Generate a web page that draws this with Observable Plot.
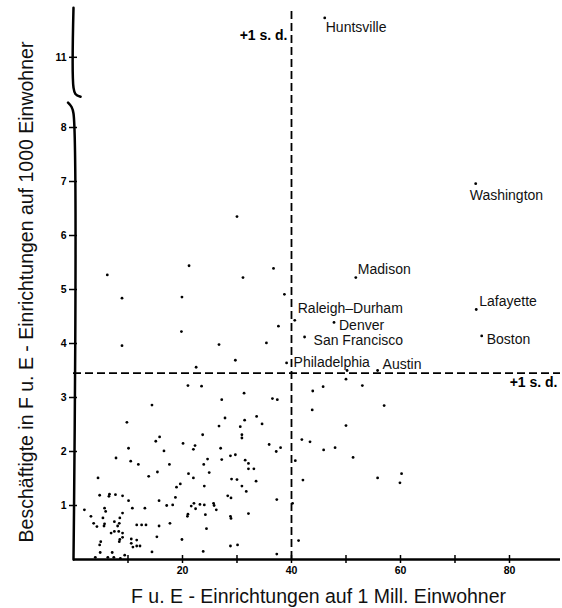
<!DOCTYPE html>
<html>
<head>
<meta charset="utf-8">
<script src="https://cdn.jsdelivr.net/npm/d3@7"></script>
<script src="https://cdn.jsdelivr.net/npm/@observablehq/plot@0.6"></script>
<style>
  html, body { margin: 0; padding: 0; background: #fff; }
  #chart svg { display: block; }
</style>
</head>
<body>
<div id="chart"></div>
<script>
// ---------- data ----------
const cityNames = ["Huntsville", "Washington", "Madison", "Lafayette", "Raleigh–Durham",
  "Denver", "San Francisco", "Boston", "Philadelphia", "Austin"];
const cityX = [46.1, 73.8, 51.8, 73.9, 40.6, 47.8, 42.4, 74.9, 39.1, 55.8];
const cityY = [11.73, 6.96, 5.22, 4.63, 4.43, 4.39, 4.12, 4.14, 3.64, 3.50];

const otherX = [
  6.2, 8.9, 8.9, 21.2, 19.9, 19.8, 22.5, 21.0, 23.5, 26.7, 29.7, 30.0, 31.1, 36.7, 38.7, 37.6, 35.4,
  50.2, 50.0, 45.8, 53.0, 43.9, 43.8, 57.0, 50.0, 41.9, 43.4, 45.9, 48.0, 51.3, 40.7, 42.1, 55.8, 60.2, 59.9, 40.2, 41.3,
  31.3, 27.2, 36.5, 37.4, 33.6, 34.6, 31.4, 27.8, 26.7, 30.6, 23.7, 30.9, 30.9, 20.1, 22.3, 22.0, 27.0, 35.9, 37.2, 38.0,
  28.8, 29.7, 24.6, 23.9, 27.2, 31.5, 32.1, 32.1, 33.1, 24.9, 21.1, 22.0, 29.0, 30.0, 33.5, 24.0, 30.9, 31.7, 28.3, 28.9,
  37.3, 22.1, 21.6, 22.4, 23.2, 24.0, 25.7, 25.8, 26.2, 21.0, 20.9, 24.2, 28.8, 28.9, 32.1, 24.4, 19.9, 28.8, 30.1, 23.8, 37.3,
  14.4, 9.8, 10.1, 15.1, 15.8, 16.6, 7.8, 10.5, 11.9, 17.6, 15.4, 13.8, 4.5, 19.6, 18.9, 18.7, 15.7, 18.2, 17.1, 17.7,
  4.8, 6.5, 6.6, 7.7, 9.0, 10.1, 10.8, 13.1, 5.7, 5.9, 2.0, 3.2, 5.4, 8.5, 9.0, 3.7, 4.3, 5.6, 5.7, 7.5, 8.1, 8.4,
  11.6, 12.5, 13.3, 15.7, 6.9, 7.5, 8.3, 9.0, 9.0, 8.5, 8.4, 5.0, 4.8, 10.6, 10.6, 11.6, 10.9, 11.6, 12.2, 15.3,
  4.9, 4.0, 6.3, 7.1, 7.4, 9.4, 8.6, 14.4
];
const otherY = [
  5.27, 4.84, 3.96, 5.44, 4.86, 4.22, 3.56, 3.22, 3.21, 3.98, 3.69, 6.35, 5.22, 5.39, 4.91, 4.32, 4.01,
  3.50, 3.34, 3.20, 3.22, 3.12, 2.77, 2.85, 2.48, 2.22, 2.18, 2.03, 2.07, 1.89, 1.83, 1.47, 1.51, 1.59, 1.42, 1.04, 0.35,
  3.08, 2.96, 2.98, 2.96, 2.65, 2.51, 2.58, 2.62, 2.47, 2.46, 2.31, 2.31, 2.25, 2.15, 2.11, 2.04, 2.06, 2.13, 2.00, 2.07,
  1.92, 1.94, 1.86, 1.76, 1.85, 1.84, 1.78, 1.68, 1.68, 1.61, 1.59, 1.51, 1.49, 1.48, 1.45, 1.36, 1.36, 1.26, 1.18, 1.14,
  1.11, 1.04, 0.99, 0.94, 1.02, 1.01, 1.04, 1.00, 0.92, 0.84, 0.80, 0.83, 0.80, 0.76, 0.85, 0.57, 0.37, 0.25, 0.27, 0.15, 0.10,
  2.86, 2.54, 2.06, 2.19, 2.27, 2.01, 1.88, 1.82, 1.76, 1.76, 1.62, 1.54, 1.51, 1.40, 1.34, 1.15, 1.09, 1.01, 1.00, 0.67,
  1.19, 1.17, 1.21, 1.20, 1.18, 1.09, 0.95, 0.95, 0.95, 0.89, 0.92, 0.80, 0.77, 0.77, 0.86, 0.67, 0.61, 0.62, 0.66, 0.70, 0.62, 0.67,
  0.64, 0.64, 0.64, 0.62, 0.49, 0.52, 0.52, 0.49, 0.41, 0.37, 0.33, 0.33, 0.27, 0.38, 0.30, 0.36, 0.23, 0.25, 0.25, 0.42,
  0.13, 0.04, 0.04, 0.13, 0.04, 0.08, 0.02, 0.14
];

const sdX = 40;      // +1 s.d. of x
const sdY = 3.45;    // +1 s.d. of y
const xTicks = [10, 20, 30, 40, 50, 60, 70, 80];
const yTicks = [1, 2, 3, 4, 5, 6, 7, 8, 11];
const xTitle = "F u. E - Einrichtungen auf 1 Mill. Einwohner";
const yTitle = "Beschäftigte in F u. E - Einrichtungen auf 1000 Einwohner";
const sdLabel = "+1 s. d.";

// axis break: values above the break are shifted down
const breakShift = 11 - 9.3;
const disp = v => (v > 9 ? v - breakShift : v);
const undisp = v => (v > 9 ? Math.round(v + breakShift) : v);

// label placement (style only)
const labelOffsets = {
  "Huntsville": [1, 10], "Washington": [-6, 12], "Madison": [2, -8], "Lafayette": [3, -8],
  "Raleigh–Durham": [3, -12], "Denver": [5, 3], "San Francisco": [9, 3], "Boston": [5, 4],
  "Philadelphia": [7, 0], "Austin": [5, -6]
};

// axis line pieces with the break (shape of the drawn axis)
const axisLower = [{x: 0, y: 0}, {x: 0, y: 8.26}, {x: -0.35, y: 8.38}, {x: -1.0, y: 8.46}];
const axisUpper = [{x: 1.3, y: 8.57}, {x: 0.35, y: 8.62}, {x: 0, y: 8.74}, {x: 0, y: 10.22}];

const others = otherX.map((x, i) => ({x, y: otherY[i]}));
const cities = cityNames.map((name, i) => ({name, x: cityX[i], y: cityY[i]}));

const labelMarks = cities.map(c => Plot.text([c], {
  x: "x", y: d => disp(d.y), text: "name", textAnchor: "start", lineAnchor: "middle",
  dx: labelOffsets[c.name][0], dy: labelOffsets[c.name][1],
  fontSize: 14, fill: "#111"
}));

const chart = Plot.plot({
  width: 562,
  height: 608,
  marginLeft: 73,
  marginRight: 2,
  marginTop: 0,
  marginBottom: 49,
  x: {domain: [0, 89.36], label: null},
  y: {domain: [0, 10.352], label: null},
  style: {fontFamily: "'Liberation Sans', Arial, Helvetica, sans-serif", background: "#fff", color: "#000"},
  marks: [
    // axes
    Plot.axisX(xTicks, {
      tickSize: 8, dy: -4, tickPadding: 3, strokeWidth: 1.5,
      tickFormat: d => (d % 20 === 0 ? d : ""), fontSize: 10.5, fontWeight: "bold", label: null
    }),
    Plot.axisY(yTicks.map(disp), {
      tickSize: 8, dx: 4, tickPadding: 3, strokeWidth: 1.5,
      tickFormat: d => undisp(d), fontSize: 10.5, fontWeight: "bold", label: null
    }),
    Plot.ruleY([0], {strokeWidth: 2.5, stroke: "#000"}),
    Plot.line(axisLower, {x: "x", y: "y", curve: "catmull-rom", strokeWidth: 2.5, stroke: "#000"}),
    Plot.line(axisUpper, {x: "x", y: "y", curve: "catmull-rom", strokeWidth: 2.5, stroke: "#000"}),
    // +1 s.d. reference lines
    Plot.ruleX([sdX], {y1: 0, y2: 10.2, strokeDasharray: "8,4", strokeWidth: 1.8, stroke: "#000"}),
    Plot.ruleY([sdY], {strokeDasharray: "8,4", strokeWidth: 1.8, stroke: "#000"}),
    Plot.text([sdLabel], {x: () => sdX, frameAnchor: "top", text: d => d, textAnchor: "end", lineAnchor: "middle",
      dx: -4, dy: 35, fontSize: 14, fontWeight: "bold"}),
    Plot.text([sdLabel], {y: () => sdY, frameAnchor: "right", text: d => d, textAnchor: "end", lineAnchor: "middle",
      dx: -3, dy: 9, fontSize: 14, fontWeight: "bold"}),
    // points
    Plot.dot(others, {x: "x", y: d => disp(d.y), r: 1.4, fill: "#000", stroke: null}),
    Plot.dot(cities, {x: "x", y: d => disp(d.y), r: 1.4, fill: "#000", stroke: null}),
    ...labelMarks,
    // axis titles
    Plot.text([xTitle], {frameAnchor: "bottom", text: d => d, textAnchor: "middle", lineAnchor: "middle",
      dx: 1.5, dy: 37, fontSize: 19.5, fill: "#111"}),
    Plot.text([yTitle], {frameAnchor: "left", text: d => d, textAnchor: "middle", lineAnchor: "middle",
      rotate: -90, dx: -47, dy: 12, fontSize: 19.5, fill: "#111"})
  ]
});
document.getElementById("chart").appendChild(chart);
</script>
</body>
</html>
